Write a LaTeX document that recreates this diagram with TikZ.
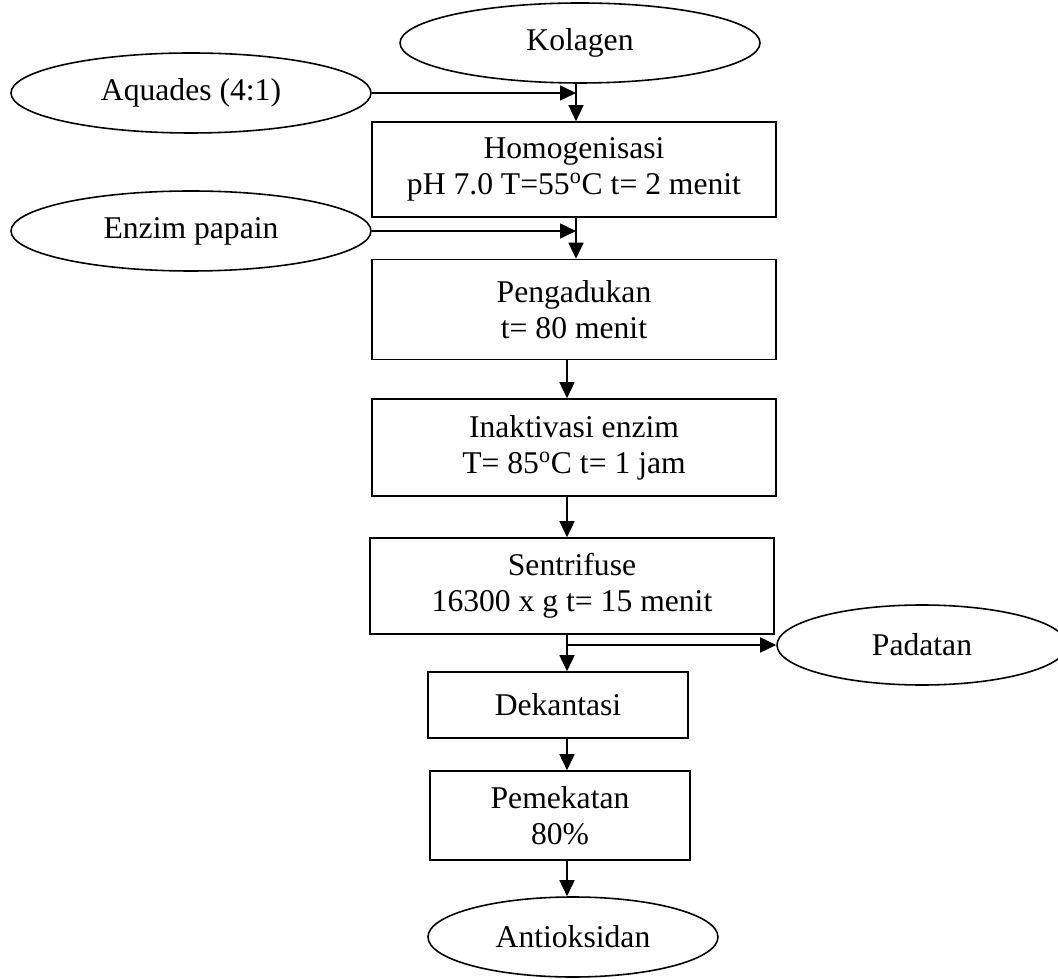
\documentclass[tikz,border=0pt]{standalone}
\usepackage{fontspec}
\setmainfont{Liberation Serif}
\usetikzlibrary{shapes.geometric,arrows.meta}

\begin{document}
\begin{tikzpicture}[x=0.2mm,y=-0.2mm,
    font=\fontsize{18}{20.5}\selectfont,
    line width=0.9pt,
    >={Triangle[length=3.2mm,width=3mm]},
    bahan/.style={draw,ellipse,inner sep=0pt,minimum width=72mm,minimum height=16mm},
    hasil/.style={draw,ellipse,inner sep=0pt,minimum width=58mm,minimum height=16mm},
    proses/.style={draw,rectangle,align=center,inner sep=0pt,minimum width=80.8mm},
    kecil/.style={draw,rectangle,align=center,inner sep=0pt,minimum width=52mm}]
    \useasboundingbox (0,0) rectangle (1058,979);

    % bahan masuk
    \node[bahan] (kolagen) at (580,43) {Kolagen};
    \node[bahan] (aquades) at (191,93) {Aquades (4:1)};
    \node[bahan] (enzim) at (191,231) {Enzim papain};

    % tahap proses
    \node[proses,minimum height=19mm] (homog) at (574,169.5) {Homogenisasi\\pH 7.0 T=55\textsuperscript{o}C t= 2 menit};
    \node[proses,minimum height=20mm] (aduk) at (574,309.5) {Pengadukan\\t= 80 menit};
    \node[proses,minimum height=19.4mm] (inaktif) at (574,447.5) {Inaktivasi enzim\\T= 85\textsuperscript{o}C t= 1 jam};
    \node[proses,minimum height=19.2mm] (sentri) at (572,586) {Sentrifuse\\16300 x g t= 15 menit};
    \node[kecil,minimum height=13.2mm] (dekan) at (558,705) {Dekantasi};
    \node[kecil,minimum height=17.8mm] (pekat) at (560,815.5) {Pemekatan\\80\%};

    % hasil
    \node[hasil] (padatan) at (922,645) {Padatan};
    \node[hasil] (antiok) at (573,937) {Antioksidan};

    % garis alir
    \coordinate (sa) at (576,0);
    \coordinate (sb) at (567,0);
    \coordinate (cabang) at (sb |- padatan.west);
    \draw[->] (kolagen.south -| sa) -- (homog.north -| sa);
    \draw[->] (aquades.east) -- (aquades.east -| sa);
    \draw[->] (homog.south -| sa) -- (aduk.north -| sa);
    \draw[->] (enzim.east) -- (enzim.east -| sa);
    \draw[->] (aduk.south -| sb) -- (inaktif.north -| sb);
    \draw[->] (inaktif.south -| sb) -- (sentri.north -| sb);
    \draw[->] (sentri.south -| sb) -- (dekan.north -| sb);
    \draw[->] (cabang) -- (padatan.west);
    \draw[->] (dekan.south -| sb) -- (pekat.north -| sb);
    \draw[->] (pekat.south -| sb) -- (antiok.north -| sb);
\end{tikzpicture}
\end{document}
